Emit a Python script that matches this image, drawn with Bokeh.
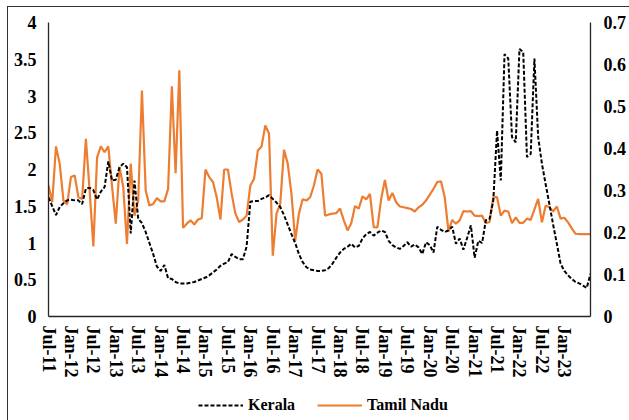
from bokeh.plotting import figure
from bokeh.layouts import column
from bokeh.models import (Range1d, LinearAxis, FixedTicker, Legend, LegendItem,
                          ColumnDataSource)
from bokeh.embed import file_html
from bokeh.resources import INLINE

# ---- data (monthly, Jul-2011 .. Aug-2023) ----
kerala = [
    1.62, 1.50, 1.38, 1.49, 1.54, 1.58, 1.59, 1.58, 1.58, 1.53,
    1.74, 1.75, 1.72, 1.59, 1.70, 1.76, 2.11, 1.85, 1.86, 2.03,
    2.08, 2.03, 1.13, 1.85, 1.33, 1.27, 1.15, 1.00, 0.85, 0.68,
    0.62, 0.70, 0.52, 0.51, 0.47, 0.45, 0.45, 0.45, 0.46, 0.47,
    0.49, 0.51, 0.53, 0.56, 0.60, 0.64, 0.69, 0.72, 0.74, 0.85,
    0.81, 0.78, 0.78, 0.95, 1.56, 1.57, 1.57, 1.60, 1.62, 1.65,
    1.60, 1.55, 1.49, 1.38, 1.25, 1.12, 1.00, 0.85, 0.74, 0.67,
    0.64, 0.63, 0.62, 0.62, 0.63, 0.66, 0.72, 0.80, 0.87, 0.92,
    0.95, 0.99, 0.94, 0.96, 1.06, 1.12, 1.15, 1.10, 1.14, 1.17,
    1.15, 1.03, 0.97, 0.94, 0.92, 0.96, 1.01, 0.95, 0.98, 0.94,
    0.85, 1.01, 0.97, 0.87, 1.22, 1.18, 1.15, 1.17, 1.22, 0.99,
    1.06, 0.91, 1.07, 1.24, 0.80, 1.03, 1.00, 1.31, 1.33, 1.58,
    2.53, 1.85, 3.57, 3.51, 2.44, 2.37, 3.64, 3.60, 2.17, 2.21,
    3.51, 2.44, 2.08, 1.80, 1.53, 1.25, 0.99, 0.72, 0.62, 0.56,
    0.51, 0.47, 0.45, 0.42, 0.39, 0.58,
]
tamil_nadu = [
    0.312, 0.272, 0.405, 0.364, 0.276, 0.267, 0.332, 0.336, 0.284, 0.280,
    0.423, 0.300, 0.167, 0.379, 0.405, 0.391, 0.405, 0.310, 0.221, 0.356,
    0.308, 0.173, 0.364, 0.240, 0.276, 0.538, 0.300, 0.264, 0.268, 0.282,
    0.274, 0.274, 0.304, 0.548, 0.341, 0.586, 0.211, 0.221, 0.229, 0.219,
    0.231, 0.234, 0.350, 0.332, 0.320, 0.284, 0.231, 0.350, 0.350, 0.292,
    0.245, 0.225, 0.231, 0.240, 0.312, 0.328, 0.395, 0.405, 0.455, 0.435,
    0.145, 0.245, 0.268, 0.397, 0.364, 0.292, 0.181, 0.245, 0.279, 0.276,
    0.284, 0.312, 0.350, 0.340, 0.240, 0.243, 0.245, 0.246, 0.257, 0.229,
    0.205, 0.222, 0.263, 0.257, 0.286, 0.279, 0.292, 0.213, 0.212, 0.280,
    0.325, 0.276, 0.294, 0.272, 0.262, 0.260, 0.258, 0.256, 0.250, 0.260,
    0.266, 0.276, 0.290, 0.304, 0.320, 0.322, 0.284, 0.203, 0.230, 0.221,
    0.229, 0.251, 0.250, 0.251, 0.240, 0.239, 0.240, 0.222, 0.225, 0.284,
    0.284, 0.240, 0.252, 0.250, 0.222, 0.236, 0.223, 0.223, 0.233, 0.230,
    0.255, 0.280, 0.224, 0.264, 0.260, 0.250, 0.262, 0.233, 0.235, 0.224,
    0.210, 0.197, 0.196, 0.196, 0.196, 0.196,
]
tick_labels = ["Jul-11", "Jan-12", "Jul-12", "Jan-13", "Jul-13", "Jan-14",
               "Jul-14", "Jan-15", "Jul-15", "Jan-16", "Jul-16", "Jan-17",
               "Jul-17", "Jan-18", "Jul-18", "Jan-19", "Jul-19", "Jan-20",
               "Jul-20", "Jan-21", "Jul-21", "Jan-22", "Jul-22", "Jan-23"]
left_ticks = [0, 0.5, 1, 1.5, 2, 2.5, 3, 3.5, 4]
right_ticks = [0, 0.1, 0.2, 0.3, 0.4, 0.5, 0.6, 0.7]

months = list(range(len(kerala)))
tick_pos = [6 * k for k in range(len(tick_labels))]

FONT = "Liberation Serif"
K_STYLE = dict(line_color="black", line_width=2, line_dash="4 2")
T_STYLE = dict(line_color="#ED7D31", line_width=2.2)

src = ColumnDataSource(dict(m=months, k=kerala, t=tamil_nadu))

# ---------------- main chart ----------------
p = figure(width=621, height=378, output_backend="svg", toolbar_location=None,
           x_range=Range1d(0, len(kerala) - 1), y_range=Range1d(0, 4),
           min_border_left=40, min_border_right=36, min_border_top=15,
           min_border_bottom=69)
p.extra_y_ranges = {"tn": Range1d(0, 0.7)}
p.xgrid.visible = False
p.ygrid.visible = False
p.outline_line_color = None
p.background_fill_color = "white"
p.border_fill_color = "white"

p.line("m", "t", source=src, y_range_name="tn", **T_STYLE)
p.line("m", "k", source=src, **K_STYLE)

def style_axis(ax, size):
    ax.axis_line_color = "#262626"
    ax.axis_line_width = 1.3
    ax.major_tick_line_color = None
    ax.minor_tick_line_color = None
    ax.major_tick_out = 0
    ax.major_tick_in = 0
    ax.major_label_text_font = FONT
    ax.major_label_text_font_style = "bold"
    ax.major_label_text_font_size = size
    ax.major_label_text_color = "black"

xa = p.xaxis[0]
xa.ticker = FixedTicker(ticks=tick_pos)
xa.major_label_overrides = {pos: lab for pos, lab in zip(tick_pos, tick_labels)}
xa.major_label_orientation = "vertical"
style_axis(xa, "18px")
xa.major_label_standoff = 9

ya = p.yaxis[0]
ya.ticker = FixedTicker(ticks=left_ticks)
ya.major_label_overrides = {v: ("%g" % v) for v in left_ticks}
style_axis(ya, "18px")
ya.major_label_standoff = 12

yr = LinearAxis(y_range_name="tn")
yr.ticker = FixedTicker(ticks=right_ticks)
yr.major_label_overrides = {v: ("%g" % v) for v in right_ticks}
style_axis(yr, "18px")
yr.major_label_standoff = 13
p.add_layout(yr, "right")

# ---------------- legend strip ----------------
# same series drawn into a strip whose ranges keep them out of view;
# only the legend of this strip is visible
lg = figure(width=621, height=35, output_backend="svg", toolbar_location=None,
            x_range=Range1d(1000, 1001), y_range=Range1d(1000, 1001),
            x_axis_location=None, y_axis_location=None,
            min_border_left=0, min_border_right=0, min_border_top=0,
            min_border_bottom=0)
lg.xgrid.visible = False
lg.ygrid.visible = False
lg.outline_line_color = None
lg.background_fill_color = "white"
lg.border_fill_color = "white"
lk = lg.line("m", "k", source=src, **K_STYLE)
lt = lg.line("m", "t", source=src, **T_STYLE)
legend = Legend(items=[LegendItem(label="Kerala", renderers=[lk]),
                       LegendItem(label="Tamil Nadu", renderers=[lt])],
                orientation="horizontal", location=(150, 5),
                border_line_alpha=0, background_fill_alpha=0,
                label_text_font=FONT, label_text_font_style="bold",
                label_text_font_size="16px", label_text_color="black",
                glyph_width=45, glyph_height=20, label_height=20,
                label_standoff=5, spacing=22, padding=0, margin=0)
lg.add_layout(legend, "center")

layout = column(p, lg, spacing=0)
layout.styles = {"margin-left": "8px", "margin-top": "7px",
                 "outline": "1px solid #333333"}

open("out.html", "w").write(file_html(layout, INLINE))
